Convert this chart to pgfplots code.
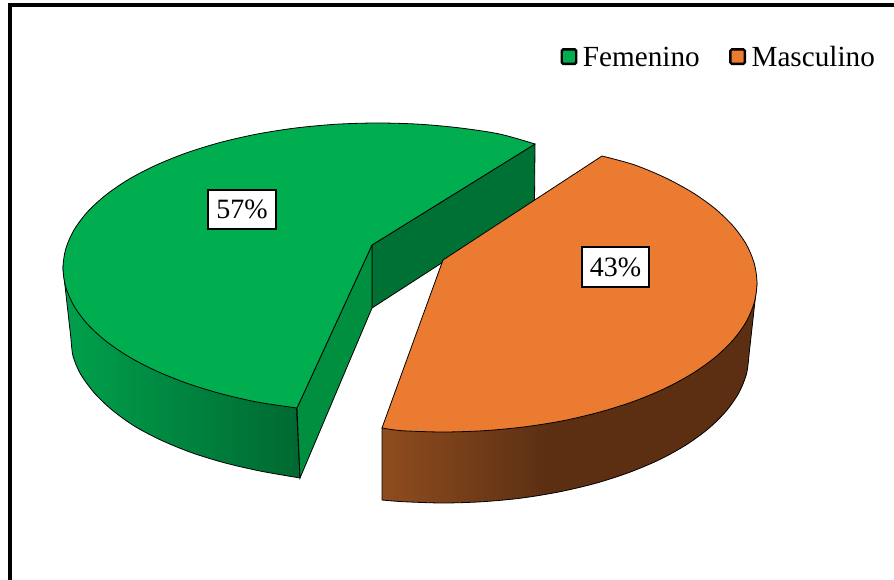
\documentclass[border=0pt]{standalone}
\usepackage{pgfplots}
\usepackage{fontspec}
\setmainfont{Liberation Serif}
\pgfplotsset{compat=1.18}
\definecolor{gtop}{HTML}{00AE50}
\definecolor{otop}{HTML}{EA7B31}
\definecolor{gfront}{HTML}{008E3F}
\definecolor{gback}{HTML}{007135}
\pgfdeclarehorizontalshading{gwall}{100bp}{rgb(0bp)=(0,0.63,0.30); rgb(25bp)=(0,0.63,0.30); rgb(75bp)=(0,0.41,0.19); rgb(100bp)=(0,0.41,0.19)}
\pgfdeclarehorizontalshading{owall}{100bp}{rgb(0bp)=(0.56,0.30,0.12); rgb(25bp)=(0.56,0.30,0.12); rgb(47bp)=(0.36,0.185,0.075); rgb(100bp)=(0.36,0.185,0.075)}
\begin{document}
\begin{tikzpicture}
\begin{axis}[
  scale only axis, width=894bp, height=580bp,
  xmin=0, xmax=894, ymin=0, ymax=580, y dir=reverse,
  hide axis, clip=true,
  legend columns=2,
  legend style={at={(axis cs:560.5,44.5)}, anchor=north west, draw=none, fill=none,
    font=\fontsize{29.2bp}{30bp}\selectfont, inner sep=0pt, outer sep=0pt,
    /tikz/every even column/.style={column sep=27.5bp}},
  legend cell align=left,
]
% frame
\addplot[draw=none, forget plot] coordinates {(0,0) (894,580)};
\addplot[black, line width=4.2bp, forget plot] coordinates {(10,580) (10,5) (894,5)};
% green back wall
\addplot[draw=black, line width=0.8bp, fill=gback, forget plot] coordinates {(372,245) (535,144) (534.5,203) (372,308)} -- cycle;
% green outer wall
\addplot[draw=black, line width=0.8bp, shade, shading=gwall, smooth, forget plot] coordinates {
(71,339) (73,356) (80.5,374) (94.4,393) (112.1,410) (134.4,426.1) (160.9,440.1) (191.1,452.5) (224.5,462.8) (260.5,471.1) (300,478)}
-- (axis cs:296.5,408) -- (axis cs:105,340) -- (axis cs:63,268) -- cycle;
% green front cut wall
\addplot[draw=black, line width=0.8bp, fill=gfront, forget plot] coordinates {(297,408) (300,478) (372,308) (372,245)} -- cycle;
% green top
\addplot[draw=black, line width=0.8bp, fill=gtop, line join=round, smooth, forget plot] coordinates {
(535,144) (499.5,134) (459.5,127.9) (419.1,124.2) (378,123) (336.9,124.2) (296.5,127.9) (257.4,134) (220.5,142.4) (186.2,153) (155.3,165.5) (128.1,179.7) (105.2,195.5) (86.9,212.5) (73.7,230.5) (65.7,249.1) (63,268)
(65.7,286.9) (73.7,305.5) (86.9,323.5) (105.2,340.5) (128.1,356.3) (155.3,370.5) (186.2,383) (220.5,393.6) (257.4,402.1) (297,408)}
-- (axis cs:372,245) -- cycle;
% orange wall
\addplot[draw=black, line width=0.8bp, shade, shading=owall, smooth, forget plot] coordinates {
(749,355) (746.4,374.3) (738.6,393.3) (725.7,411.6) (708,429) (685.8,445.1) (659.4,459.7) (629.3,472.4) (596,483.2) (560.1,491.7) (522.2,498) (482.9,501.7) (443,503) (403.1,501.7) (382,500)}
-- (axis cs:382,428) -- (axis cs:757,283) -- cycle;
% orange top
\addplot[draw=black, line width=0.8bp, fill=otop, line join=round, smooth, forget plot] coordinates {
(602,156) (634.2,164.8) (665,177.6) (692.1,192.3) (714.9,208.5) (733.1,226) (746.3,244.4) (754.3,263.6) (757,283)
(754.3,302.4) (746.3,321.6) (733.1,340) (714.9,357.5) (692.1,373.7) (665,388.4) (634.2,401.2) (600,412) (563.2,420.7) (524.3,426.9) (484,430.7) (443,432) (402,430.7) (382,428)}
-- (axis cs:443,260) -- cycle;
% legend
\addlegendimage{legend image code/.code={\path (0bp,0bp) (19bp,0bp); \draw[black, fill=gtop, line width=2.4bp, rounded corners=1.5bp] (0bp,-6.5bp) rectangle (14.5bp,8bp);}}
\addlegendentry{Femenino}
\addlegendimage{legend image code/.code={\path (0bp,0bp) (19bp,0bp); \draw[black, fill=otop, line width=2.4bp, rounded corners=1.5bp] (0bp,-6.5bp) rectangle (14.5bp,8bp);}}
\addlegendentry{Masculino}
% labels
\node[draw=black, fill=white, line width=2bp, minimum width=67.5bp, minimum height=39.5bp, inner sep=0pt, font=\fontsize{28bp}{30bp}\selectfont] at (axis cs:242,209.5) {57\%};
\node[draw=black, fill=white, line width=2bp, minimum width=67.5bp, minimum height=39.5bp, inner sep=0pt, font=\fontsize{28bp}{30bp}\selectfont] at (axis cs:615.5,267) {43\%};
\end{axis}
\pgfresetboundingbox
\path (current axis.south west) rectangle (current axis.north east);
\end{tikzpicture}
\end{document}
